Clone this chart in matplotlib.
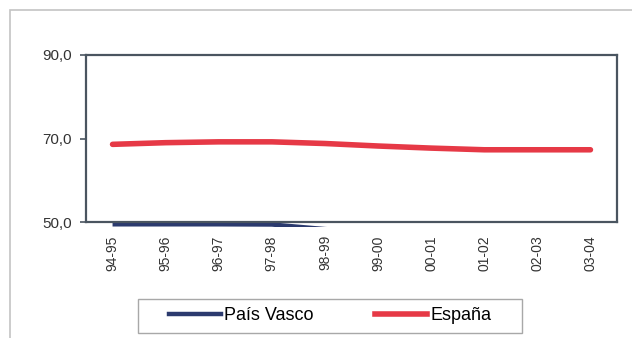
import matplotlib
matplotlib.use("Agg")
import matplotlib.pyplot as plt
from matplotlib.patches import Rectangle
from matplotlib.lines import Line2D

plt.rcParams['font.family'] = ['Liberation Sans', 'DejaVu Sans']

categories = ["94-95", "95-96", "96-97", "97-98", "98-99", "99-00", "00-01", "01-02", "02-03", "03-04"]
pais_vasco = [49.45, 49.45, 49.45, 49.4, 48.3, 47.6, 47.0, 46.5, 46.2, 46.0]
espana = [68.6, 69.0, 69.2, 69.2, 68.8, 68.2, 67.7, 67.3, 67.3, 67.3]
yticks = [50, 70, 90]

W, H = 632, 338
fig = plt.figure(figsize=(W / 100, H / 100), dpi=100)
fig.patch.set_facecolor("white")

# outer chart frame
fig.patches.append(Rectangle((10 / W, -0.1), 1.2, 1 - 10 / H + 0.1, transform=fig.transFigure,
                             fill=False, edgecolor="#c4c4c4", lw=1.2))

ax = fig.add_axes([86 / W, 1 - 222 / H, (617 - 86) / W, (222 - 55) / H])
x = list(range(len(categories)))

blue_line, = ax.plot(x, pais_vasco, color="#2b3a6e", lw=3.2, solid_capstyle="butt", zorder=2)
clip = Rectangle((0, -0.03), 1, 1.03, transform=ax.transAxes, fill=False, visible=False)
ax.add_patch(clip)
blue_line.set_clip_path(clip)

ax.plot(x, espana, color="#e63946", lw=4.0, solid_capstyle="round", zorder=3)

ax.set_xlim(-0.5, len(categories) - 0.5)
ax.set_ylim(50, 90)
ax.set_yticks(yticks)
ax.set_yticklabels([f"{v:.1f}".replace(".", ",") for v in yticks])
ax.set_xticks(x)
ax.set_xticklabels(categories, rotation=90)
ax.tick_params(axis="y", length=4, width=1.2, color="#4a5560", pad=6, labelsize=11, labelcolor="#333333")
ax.tick_params(axis="x", length=0, pad=9.5, labelsize=10, labelcolor="#333333")
for s in ax.spines.values():
    s.set_color("#4a5560")
    s.set_linewidth(1.6)
    s.set_zorder(4)

# legend
handles = [Line2D([], [], color="#2b3a6e", lw=3.2), Line2D([], [], color="#e63946", lw=4.0)]
leg = fig.legend(handles, ["País Vasco", "España"], loc="center", bbox_to_anchor=(330 / W, 1 - 316 / H),
                 ncol=2, frameon=False, fontsize=13, handlelength=2.9, handletextpad=0.17,
                 columnspacing=3.4, borderpad=0.3)
fig.patches.append(Rectangle((138 / W, 1 - 333 / H), (522 - 138) / W, (333 - 299) / H,
                             transform=fig.transFigure, fill=False, edgecolor="#a8a8a8", lw=1.0))

fig.savefig("out.png", dpi=100)
